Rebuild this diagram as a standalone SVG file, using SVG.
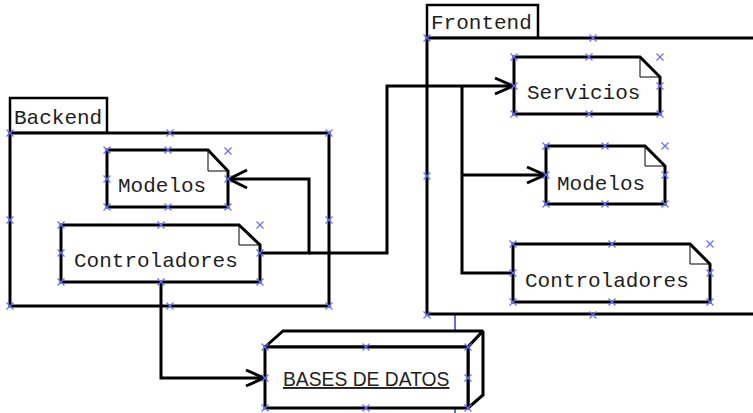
<svg xmlns="http://www.w3.org/2000/svg" xmlns:xlink="http://www.w3.org/1999/xlink" width="753" height="413" viewBox="0 0 753 413">
  <style>
    .pkg { fill: #ffffff; stroke: #000; stroke-width: 3; }
    .tab { fill: #ffffff; stroke: #000; stroke-width: 2.5; }
    .doc { fill: #ffffff; stroke: #000; stroke-width: 3; stroke-linejoin: miter; }
    .fold { fill: none; stroke: #000; stroke-width: 1; }
    .box { fill: #ffffff; stroke: #000; stroke-width: 3; stroke-linejoin: miter; stroke-miterlimit: 1.6; }
    .lbl { font-family: "Liberation Mono", "DejaVu Sans Mono", monospace; font-size: 21px; fill: #1e1e1e; }
    .db { font-family: "Liberation Sans", Arial, sans-serif; font-size: 19.3px; fill: #222; text-decoration: underline; }
    .wire { fill: none; stroke: #000; stroke-width: 3; stroke-linejoin: miter; }
    .head { fill: none; stroke: #000; stroke-width: 3; stroke-linecap: butt; }
    .link { stroke: #3a3acc; stroke-width: 1.5; }
    .h { fill: none; stroke: #6a6aff; stroke-width: 1.2; }
  </style>
  <defs>
    <!-- selection handle -->
    <path id="hx" class="h" d="M-3.5,-3.5 L3.5,3.5 M-3.5,3.5 L3.5,-3.5"/>
  </defs>

  <!-- thin link running behind the database box -->
  <line class="link" x1="455" y1="315" x2="455" y2="413"/>

  <!-- Backend package -->
  <g id="backend">
    <rect class="tab" x="10" y="98" width="97" height="35"/>
    <text class="lbl" x="14" y="124">Backend</text>
    <rect class="pkg" x="10" y="133" width="319" height="173"/>
  </g>

  <!-- Frontend package -->
  <g id="frontend">
    <rect class="tab" x="427" y="5" width="111" height="33"/>
    <text class="lbl" x="431" y="29">Frontend</text>
    <rect class="pkg" x="427" y="38" width="332" height="276"/>
  </g>

  <g id="backend-modelos">
    <path class="doc" d="M107,150 H208 L228,171 V207 H107 Z"/>
    <path class="fold" d="M208,150 V171 H228"/>
    <text class="lbl" x="118" y="192">Modelos</text>
  </g>

  <g id="backend-controladores">
    <path class="doc" d="M61,225 H239 L260,245 V282 H61 Z"/>
    <path class="fold" d="M239,225 V245 H260"/>
    <text class="lbl" x="74" y="267">Controladores</text>
  </g>

  <g id="frontend-servicios">
    <path class="doc" d="M514,57 H640 L660,77 V114 H514 Z"/>
    <path class="fold" d="M640,57 V77 H660"/>
    <text class="lbl" x="527" y="99">Servicios</text>
  </g>

  <g id="frontend-modelos">
    <path class="doc" d="M546,146 H645 L665,166 V204 H546 Z"/>
    <path class="fold" d="M645,146 V166 H665"/>
    <text class="lbl" x="557" y="190">Modelos</text>
  </g>

  <g id="frontend-controladores">
    <path class="doc" d="M513,244 H690 L710,264 V302 H513 Z"/>
    <path class="fold" d="M690,244 V264 H710"/>
    <text class="lbl" x="525" y="287">Controladores</text>
  </g>

  <g id="bases-de-datos">
    <path class="box" d="M265,347 L283,331 H483 L468,347 Z"/>
    <path class="box" d="M468,347 L483,331 V395 L468,408 Z"/>
    <rect class="box" x="265" y="347" width="203" height="61"/>
    <text class="db" x="283" y="386">BASES DE DATOS</text>
  </g>

  <!-- connectors -->
  <g id="connectors">
    <!-- Controladores to Modelos (backend) -->
    <path class="wire" d="M260,253 H309 V179 H229"/>
    <path class="head" d="M247,170 L229,179 L247,188"/>
    <!-- Controladores to Servicios -->
    <path class="wire" d="M309,253 H387 V86 H513"/>
    <path class="head" d="M495,78 L513,86 L495,94"/>
    <!-- Servicios branch to Modelos and Controladores (frontend) -->
    <path class="wire" d="M462,86 V273 H513"/>
    <path class="wire" d="M462,175 H545"/>
    <path class="head" d="M527,167 L545,175 L527,183"/>
    <!-- Controladores to BASES DE DATOS -->
    <path class="wire" d="M161,282 V378 H264"/>
    <path class="head" d="M246,370 L264,378 L246,386"/>
  </g>

  <!-- selection handles -->
  <g id="handles">
    <use href="#hx" x="10" y="133"/><use href="#hx" x="170" y="133"/><use href="#hx" x="329" y="133"/>
    <use href="#hx" x="10" y="220"/><use href="#hx" x="329" y="220"/>
    <use href="#hx" x="10" y="306"/><use href="#hx" x="170" y="306"/><use href="#hx" x="329" y="306"/>

    <use href="#hx" x="107" y="150"/><use href="#hx" x="168" y="150"/><use href="#hx" x="228" y="151"/>
    <use href="#hx" x="107" y="179"/><use href="#hx" x="228" y="179"/>
    <use href="#hx" x="107" y="207"/><use href="#hx" x="168" y="207"/><use href="#hx" x="228" y="207"/>

    <use href="#hx" x="61" y="225"/><use href="#hx" x="161" y="225"/><use href="#hx" x="260" y="225"/>
    <use href="#hx" x="61" y="253"/><use href="#hx" x="260" y="253"/>
    <use href="#hx" x="61" y="282"/><use href="#hx" x="161" y="282"/><use href="#hx" x="260" y="282"/>

    <use href="#hx" x="427" y="38"/><use href="#hx" x="593" y="38"/>
    <use href="#hx" x="427" y="176"/>
    <use href="#hx" x="427" y="315"/><use href="#hx" x="593" y="315"/>

    <use href="#hx" x="514" y="57"/><use href="#hx" x="589" y="57"/><use href="#hx" x="660" y="57"/>
    <use href="#hx" x="514" y="86"/><use href="#hx" x="660" y="86"/>
    <use href="#hx" x="514" y="114"/><use href="#hx" x="589" y="114"/><use href="#hx" x="660" y="114"/>

    <use href="#hx" x="546" y="146"/><use href="#hx" x="605" y="146"/><use href="#hx" x="665" y="146"/>
    <use href="#hx" x="546" y="175"/><use href="#hx" x="665" y="175"/>
    <use href="#hx" x="546" y="204"/><use href="#hx" x="605" y="204"/><use href="#hx" x="665" y="204"/>

    <use href="#hx" x="513" y="244"/><use href="#hx" x="612" y="244"/><use href="#hx" x="710" y="244"/>
    <use href="#hx" x="513" y="273"/><use href="#hx" x="710" y="273"/>
    <use href="#hx" x="513" y="302"/><use href="#hx" x="612" y="302"/><use href="#hx" x="710" y="302"/>

    <use href="#hx" x="265" y="347"/><use href="#hx" x="366" y="347"/><use href="#hx" x="468" y="347"/>
    <use href="#hx" x="265" y="378"/><use href="#hx" x="468" y="378"/>
    <use href="#hx" x="265" y="408"/><use href="#hx" x="366" y="408"/><use href="#hx" x="468" y="408"/>
  </g>
</svg>
